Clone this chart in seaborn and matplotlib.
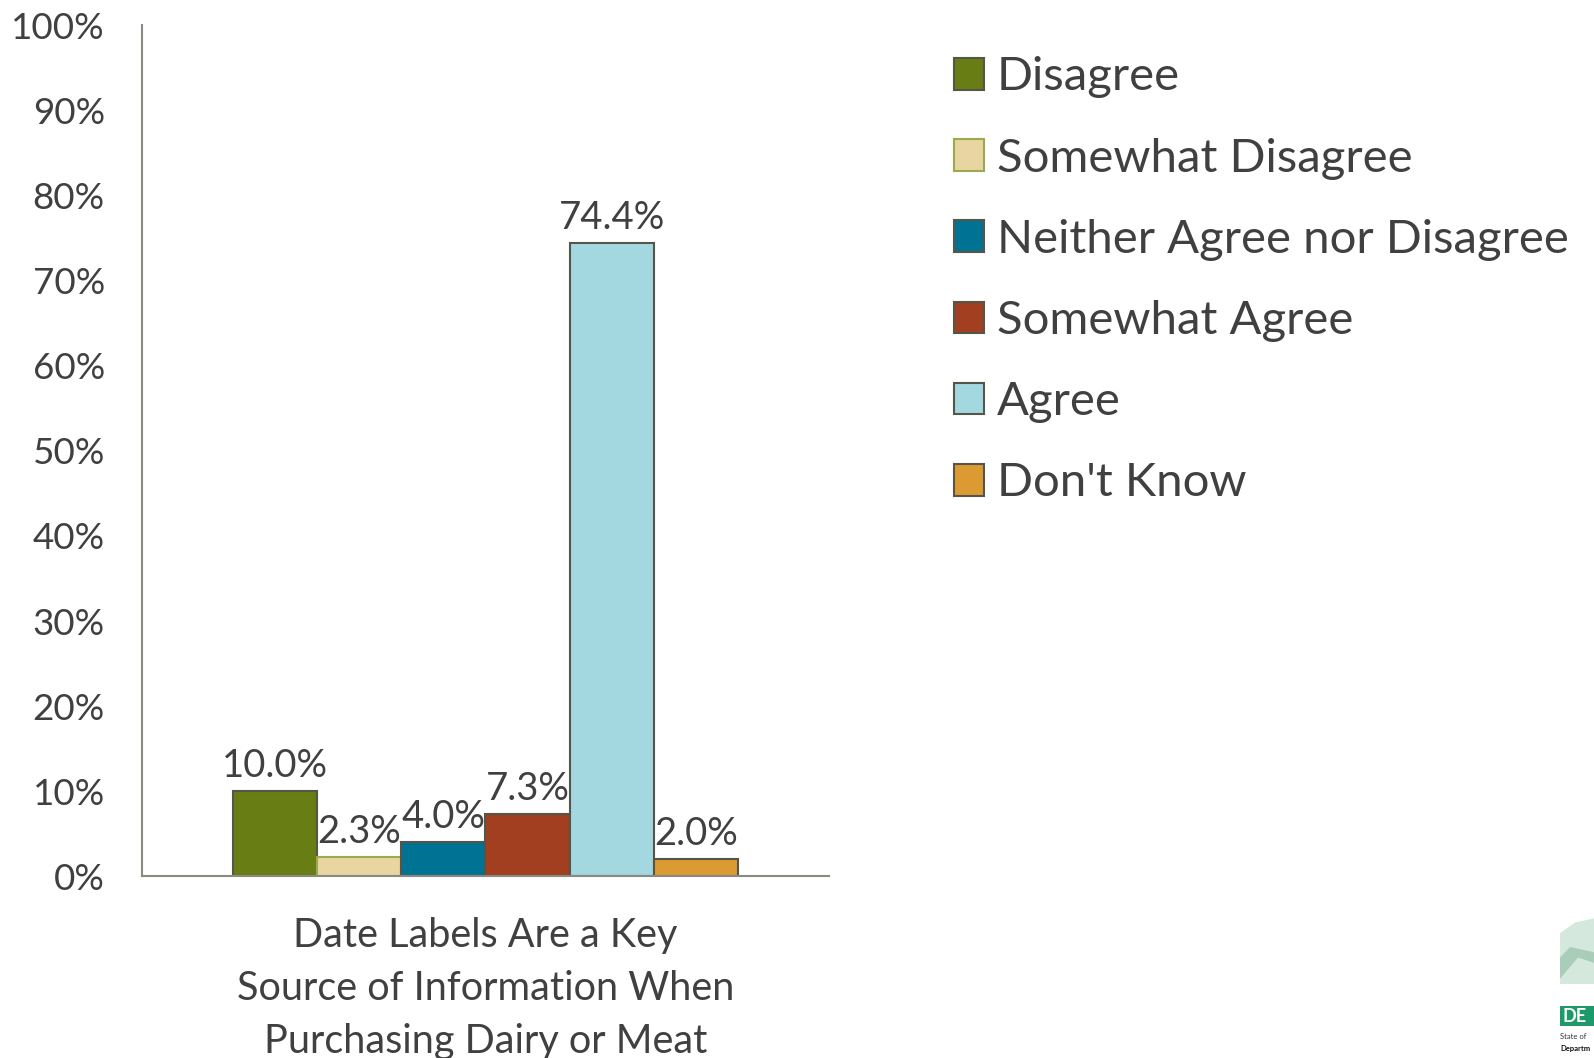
import matplotlib
matplotlib.use("Agg")
import matplotlib.pyplot as plt
import seaborn as sns
import pandas as pd
from matplotlib.patches import Patch, Rectangle, Polygon

# Survey responses for a single statement
question = "Date Labels Are a Key\nSource of Information When\nPurchasing Dairy or Meat"
responses = ["Disagree", "Somewhat Disagree", "Neither Agree nor Disagree",
             "Somewhat Agree", "Agree", "Don't Know"]
shares = [10.0, 2.3, 4.0, 7.3, 74.4, 2.0]
colors = ["#687D13", "#E8D5A1", "#007395", "#A13F20", "#A4D8E1", "#DC9A33"]
edge_colors = ["#555548", "#9AAA50", "#555548", "#555548", "#555548", "#555548"]

yticks = list(range(0, 101, 10))
ytick_labels = [f"{t}%" for t in yticks]

df = pd.DataFrame({"question": [question] * len(responses),
                   "response": responses,
                   "share": shares})

sns.set_theme(style="white")
plt.rcParams["font.family"] = ["Lato", "DejaVu Sans"]
text_color = "#404040"

fig = plt.figure(figsize=(15.94, 10.58), dpi=100)
ax = fig.add_axes([0.0893, 0.1717, 0.4305, 0.8043])

sns.barplot(data=df, x="question", y="share", hue="response",
            hue_order=responses, palette=colors, width=0.737,
            saturation=1, legend=False, ax=ax)

for bars, ec in zip(ax.containers, edge_colors):
    for b in bars:
        b.set_edgecolor(ec)
        b.set_linewidth(1.5)
    ax.bar_label(bars, fmt="%.1f%%", padding=5, fontsize=27.5, color=text_color)

ax.set_ylim(0, 100)
ax.set_xlim(-0.5, 0.5)
ax.set_yticks(yticks)
ax.set_yticklabels(ytick_labels)
ax.tick_params(axis="y", length=0, pad=27, labelsize=26.5, labelcolor=text_color)
ax.tick_params(axis="x", length=0, pad=29, labelsize=28.5, labelcolor=text_color)
for lab in ax.get_xticklabels():
    lab.set_linespacing(1.54)
ax.set_xlabel("")
ax.set_ylabel("")

for side in ["top", "right"]:
    ax.spines[side].set_visible(False)
for side in ["left", "bottom"]:
    ax.spines[side].set_color("#8A8A80")
    ax.spines[side].set_linewidth(1.5)

handles = [Patch(facecolor=c, edgecolor=e, linewidth=1.5, label=r)
           for r, c, e in zip(responses, colors, edge_colors)]
leg = fig.legend(handles=handles, loc="upper left",
                 bbox_to_anchor=(0.5834, 0.969), frameon=False,
                 fontsize=34, handlelength=0.65, handleheight=0.65,
                 handletextpad=0.26, labelspacing=0.83, borderpad=0)
for t in leg.get_texts():
    t.set_color(text_color)

# Agency logo fragment at the lower right edge
fig.patches.append(Polygon([(0.9787, 0.070), (0.9787, 0.118), (0.988, 0.128),
                            (1.0, 0.132), (1.0, 0.070)], closed=True,
                           transform=fig.transFigure,
                           facecolor="#D5E8DD", edgecolor="none"))
fig.patches.append(Polygon([(0.9787, 0.075), (0.990, 0.095), (1.0, 0.090),
                            (1.0, 0.100), (0.985, 0.105), (0.9787, 0.095)],
                           closed=True, transform=fig.transFigure,
                           facecolor="#A9CDB8", edgecolor="none"))
fig.patches.append(Rectangle((0.9787, 0.030), 0.0213, 0.019,
                             transform=fig.transFigure,
                             facecolor="#1E9A6A", edgecolor="none"))
fig.text(0.9800, 0.0395, "DE", color="white", fontsize=13,
         fontweight="bold", va="center", ha="left")
fig.text(0.9787, 0.020, "State of", fontsize=5.5, color="#333333",
         va="center", ha="left")
fig.text(0.9787, 0.009, "Departm", fontsize=5.5, color="#111111",
         fontweight="bold", va="center", ha="left")

fig.savefig("out.png", dpi=100)
